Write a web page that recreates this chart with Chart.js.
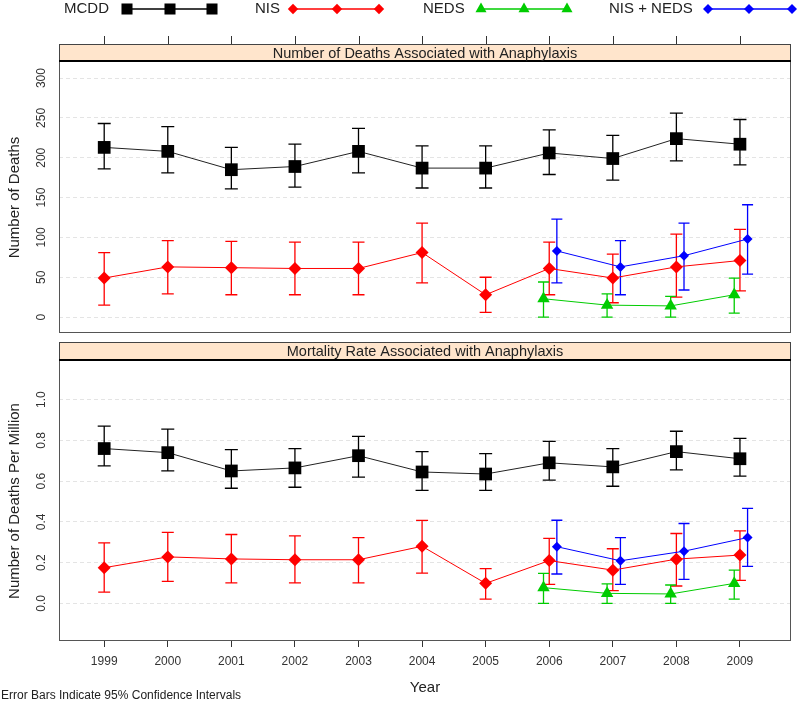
<!DOCTYPE html>
<html><head><meta charset="utf-8">
<script src="https://cdn.jsdelivr.net/npm/chart.js@4/dist/chart.umd.min.js"></script>
<style>
html,body{margin:0;padding:0;background:#fff;}
#wrap{position:relative;width:800px;height:701px;overflow:hidden;background:#fff;}
#cTop{position:absolute;left:0;top:0;width:800px;height:342px;}
#cBot{position:absolute;left:0;top:342px;width:800px;height:359px;}
</style></head><body>
<div id="wrap"><canvas id="cTop" width="800" height="342"></canvas><canvas id="cBot" width="800" height="359"></canvas></div>
<script>
// ---------------- data ----------------
const years     = [1999,2000,2001,2002,2003,2004,2005,2006,2007,2008,2009];
const yearsNeds = [2006,2007,2008,2009];
const seriesNames = ['MCDD','NIS','NEDS','NIS + NEDS'];

// Panel 1: number of deaths
const mcddDeaths   = [213,208,185,189,208,187,187,206,199,224,217];
const mcddDeathsLo = [186,181,161,163,181,162,162,179,172,196,191];
const mcddDeathsHi = [243,239,213,217,237,215,215,235,228,256,248];
const nisDeaths    = [49,63,62,61,61,81,28,61,49,63,71];
const nisDeathsLo  = [15,29,28,28,28,43,6,28,18,25,33];
const nisDeathsHi  = [81,96,95,94,94,118,50,94,79,104,110];
const nedsDeaths   = [23,15,14,28];
const nedsDeathsLo = [0,0,0,5];
const nedsDeathsHi = [44,29,26,49];
const bothDeaths   = [83,63,77,98];
const bothDeathsLo = [43,28,34,54];
const bothDeathsHi = [123,96,118,141];

// Panel 2: deaths per million
const mcddRate   = [0.76,0.74,0.65,0.665,0.725,0.645,0.635,0.69,0.67,0.745,0.71];
const mcddRateLo = [0.675,0.65,0.565,0.57,0.62,0.555,0.555,0.605,0.575,0.655,0.625];
const mcddRateHi = [0.87,0.855,0.755,0.76,0.82,0.745,0.735,0.795,0.76,0.845,0.81];
const nisRate    = [0.175,0.228,0.218,0.214,0.214,0.28,0.098,0.21,0.163,0.217,0.237];
const nisRateLo  = [0.055,0.108,0.10,0.10,0.10,0.148,0.021,0.093,0.062,0.085,0.113];
const nisRateHi  = [0.297,0.348,0.338,0.331,0.323,0.407,0.17,0.319,0.268,0.343,0.356];
const nedsRate   = [0.077,0.049,0.046,0.098];
const nedsRateLo = [0,0,0,0.021];
const nedsRateHi = [0.147,0.096,0.09,0.163];
const bothRate   = [0.278,0.209,0.256,0.323];
const bothRateLo = [0.144,0.093,0.118,0.181];
const bothRateHi = [0.408,0.323,0.392,0.466];

const yTicksCount = [0,50,100,150,200,250,300];
const yTicksRate  = [0,0.2,0.4,0.6,0.8,1.0];

// ---------------- style ----------------
const FONT = "'Liberation Sans', Arial, sans-serif";
Chart.defaults.font.family = FONT;
const OFF_NEDS = -0.09, OFF_BOTH = 0.12;
const STY = [
  {color:'#000000', line:'#222222', style:'rect',    r:9,   cap:6.5, lr:7.8},
  {color:'#ff0000', line:'#ff0000', style:'rectRot', r:6.5, cap:6,   lr:5.2},
  {color:'#00cc00', line:'#00cc00', style:'triangle',r:7.2, cap:5.5, lr:6.4},
  {color:'#0000ff', line:'#0000ff', style:'rectRot', r:5,   cap:5.5, lr:5}
];

function pts(xs, ys, dx){ return xs.map((x,i)=>({x:x+dx, y:ys[i]})); }
function mkDs(k, xs, ys, lo, hi, dx){
  const s = STY[k];
  return {label:seriesNames[k], data:pts(xs,ys,dx), errLo:lo, errHi:hi, errColor:s.color, capHalf:s.cap,
    borderColor:s.line, borderWidth:1, backgroundColor:s.color, pointStyle:s.style,
    pointRadius:s.r, pointHoverRadius:s.r, pointBackgroundColor:s.color, pointBorderColor:s.color,
    pointBorderWidth:0, tension:0, fill:false, showLine:true, order:k};
}

function drawMarker(ctx, style, x, y, r, color){
  ctx.fillStyle = color;
  ctx.beginPath();
  if (style === 'rect'){ const h = r*Math.SQRT1_2; ctx.rect(x-h, y-h, 2*h, 2*h); }
  else if (style === 'rectRot'){ ctx.moveTo(x, y-r); ctx.lineTo(x+r, y); ctx.lineTo(x, y+r); ctx.lineTo(x-r, y); ctx.closePath(); }
  else if (style === 'triangle'){
    for (let i=0;i<3;i++){ const a = -Math.PI/2 + i*2*Math.PI/3; const px=x+r*Math.cos(a), py=y+r*Math.sin(a); i?ctx.lineTo(px,py):ctx.moveTo(px,py);} ctx.closePath(); }
  ctx.fill();
}

const errorBarPlugin = {
  id:'errbars',
  beforeDatasetsDraw(chart){
    const ctx = chart.ctx, xs = chart.scales.x, ys = chart.scales.y;
    chart.data.datasets.forEach(ds => {
      if (!ds.errLo) return;
      ctx.save();
      ctx.strokeStyle = ds.errColor; ctx.lineWidth = 1.3;
      ds.data.forEach((p,i) => {
        const x = xs.getPixelForValue(p.x);
        const yl = ys.getPixelForValue(ds.errLo[i]), yh = ys.getPixelForValue(ds.errHi[i]);
        const w = ds.capHalf;
        ctx.beginPath();
        ctx.moveTo(x, yl); ctx.lineTo(x, yh);
        ctx.moveTo(x-w, yl); ctx.lineTo(x+w, yl);
        ctx.moveTo(x-w, yh); ctx.lineTo(x+w, yh);
        ctx.stroke();
      });
      ctx.restore();
    });
  }
};

const panelPlugin = {
  id:'panel',
  afterDraw(chart, args, o){
    const ctx = chart.ctx, a = chart.chartArea, ys = chart.scales.y, xs = chart.scales.x;
    ctx.save();
    // panel frame
    ctx.strokeStyle = '#555'; ctx.lineWidth = 1;
    ctx.strokeRect(a.left+0.5, a.top-0.5, a.right-a.left-1, a.bottom-a.top);
    // strip
    const sTop = a.top - o.stripH;
    ctx.fillStyle = '#ffe5cc';
    ctx.fillRect(a.left+0.5, sTop, a.right-a.left-1, o.stripH);
    ctx.strokeStyle = '#444'; ctx.lineWidth = 1;
    ctx.beginPath();
    ctx.moveTo(a.left+0.5, sTop); ctx.lineTo(a.left+0.5, a.top);
    ctx.moveTo(a.right-0.5, sTop); ctx.lineTo(a.right-0.5, a.top);
    if (o.stripTopLine){ ctx.moveTo(a.left, sTop+0.5); ctx.lineTo(a.right, sTop+0.5); }
    ctx.stroke();
    ctx.strokeStyle = '#000'; ctx.lineWidth = 2;
    ctx.beginPath(); ctx.moveTo(a.left, a.top-1); ctx.lineTo(a.right, a.top-1); ctx.stroke();
    ctx.fillStyle = '#222'; ctx.font = '14.5px ' + FONT;
    ctx.textAlign = 'center'; ctx.textBaseline = 'middle';
    ctx.fillText(o.title, (a.left+a.right)/2, sTop + o.stripH/2 + 0.5);
    // y tick labels (rotated)
    ctx.fillStyle = '#333'; ctx.font = '12px ' + FONT;
    o.ticks.forEach(v => {
      const y = ys.getPixelForValue(v);
      ctx.save(); ctx.translate(41.5, y); ctx.rotate(-Math.PI/2);
      ctx.fillText(o.fmt(v), 0, 0); ctx.restore();
    });
    // y title
    ctx.fillStyle = '#222'; ctx.font = '15px ' + FONT;
    ctx.save(); ctx.translate(15, (a.top+a.bottom)/2); ctx.rotate(-Math.PI/2);
    ctx.fillText(o.yTitle, 0, 0); ctx.restore();
    // top tick marks
    if (o.topTicks){
      ctx.strokeStyle = '#333'; ctx.lineWidth = 1;
      ctx.beginPath();
      years.forEach(yr => { const x = Math.round(xs.getPixelForValue(yr))+0.5; ctx.moveTo(x, sTop-8); ctx.lineTo(x, sTop); });
      ctx.stroke();
    }
    // legend
    if (o.legend){
      const items = [
        {k:0, tx:64,  m:[127,170,212]},
        {k:1, tx:255, m:[293,337,379]},
        {k:2, tx:423, m:[481,524,567]},
        {k:3, tx:609, m:[708,749,792]}
      ];
      const ly = 9;
      items.forEach(it => {
        const s = STY[it.k];
        ctx.fillStyle = '#222'; ctx.font = '15px ' + FONT; ctx.textAlign = 'left'; ctx.textBaseline = 'middle';
        ctx.fillText(seriesNames[it.k], it.tx, ly);
        ctx.strokeStyle = s.color; ctx.lineWidth = 1.6;
        ctx.beginPath(); ctx.moveTo(it.m[0], ly); ctx.lineTo(it.m[2], ly); ctx.stroke();
        it.m.forEach(mx => drawMarker(ctx, s.style, mx, ly, s.lr, s.color));
      });
    }
    // footnote
    if (o.footnote){
      ctx.fillStyle = '#222'; ctx.font = '12px ' + FONT; ctx.textAlign = 'left'; ctx.textBaseline = 'alphabetic';
      ctx.fillText(o.footnote, 1, chart.height - 2);
    }
    ctx.restore();
  }
};

function yScale(min, max, ticks){
  return {type:'linear', min:min, max:max, display:true,
    afterBuildTicks: s => { s.ticks = ticks.map(v => ({value:v})); },
    afterFit: s => { s.width = 0; },
    ticks:{display:false}, grid:{color:'#e4e4e4', lineWidth:1, drawTicks:false},
    border:{display:false, dash:[4,3]}};
}

const xMin = 1998.289, xMax = 2009.803;

new Chart(document.getElementById('cTop'), {
  type:'line',
  data:{datasets:[
    mkDs(0, years, mcddDeaths, mcddDeathsLo, mcddDeathsHi, 0),
    mkDs(1, years, nisDeaths, nisDeathsLo, nisDeathsHi, 0),
    mkDs(2, yearsNeds, nedsDeaths, nedsDeathsLo, nedsDeathsHi, OFF_NEDS),
    mkDs(3, yearsNeds, bothDeaths, bothDeathsLo, bothDeathsHi, OFF_BOTH)
  ]},
  options:{responsive:false, animation:false, events:[],
    layout:{padding:{top:62, left:59, right:3, bottom:0}},
    scales:{
      x:{type:'linear', min:xMin, max:xMax, display:false},
      y:yScale(-20, 320.2, yTicksCount)
    },
    plugins:{legend:{display:false}, tooltip:{enabled:false},
      panel:{stripH:18, stripTopLine:true, title:'Number of Deaths Associated with Anaphylaxis',
        ticks:yTicksCount, fmt:v=>String(v), yTitle:'Number of Deaths', topTicks:true, legend:true}}
  },
  plugins:[errorBarPlugin, panelPlugin]
});

new Chart(document.getElementById('cBot'), {
  type:'line',
  data:{datasets:[
    mkDs(0, years, mcddRate, mcddRateLo, mcddRateHi, 0),
    mkDs(1, years, nisRate, nisRateLo, nisRateHi, 0),
    mkDs(2, yearsNeds, nedsRate, nedsRateLo, nedsRateHi, OFF_NEDS),
    mkDs(3, yearsNeds, bothRate, bothRateLo, bothRateHi, OFF_BOTH)
  ]},
  options:{responsive:false, animation:false, events:[],
    layout:{padding:{top:19, left:59, right:3, bottom:0}},
    scales:{
      x:{type:'linear', min:xMin, max:xMax, position:'bottom',
        afterBuildTicks: s => { s.ticks = years.map(v => ({value:v})); },
        afterFit: s => { s.height = 60; },
        ticks:{callback:v=>String(v), color:'#333', font:{size:12}, padding:7, maxRotation:0, autoSkip:false},
        grid:{drawOnChartArea:false, drawTicks:true, tickLength:6, tickColor:'#333', color:'#333'},
        border:{display:false},
        title:{display:true, text:'Year', color:'#222', font:{size:15}, padding:{top:0, bottom:4}}
      },
      y:yScale(-0.185, 1.19, yTicksRate)
    },
    plugins:{legend:{display:false}, tooltip:{enabled:false},
      panel:{stripH:19, stripTopLine:true, title:'Mortality Rate Associated with Anaphylaxis',
        ticks:yTicksRate, fmt:v=>v.toFixed(1), yTitle:'Number of Deaths Per Million', topTicks:false, legend:false,
        footnote:'Error Bars Indicate 95% Confidence Intervals'}}
  },
  plugins:[errorBarPlugin, panelPlugin]
});
</script>
</body></html>
